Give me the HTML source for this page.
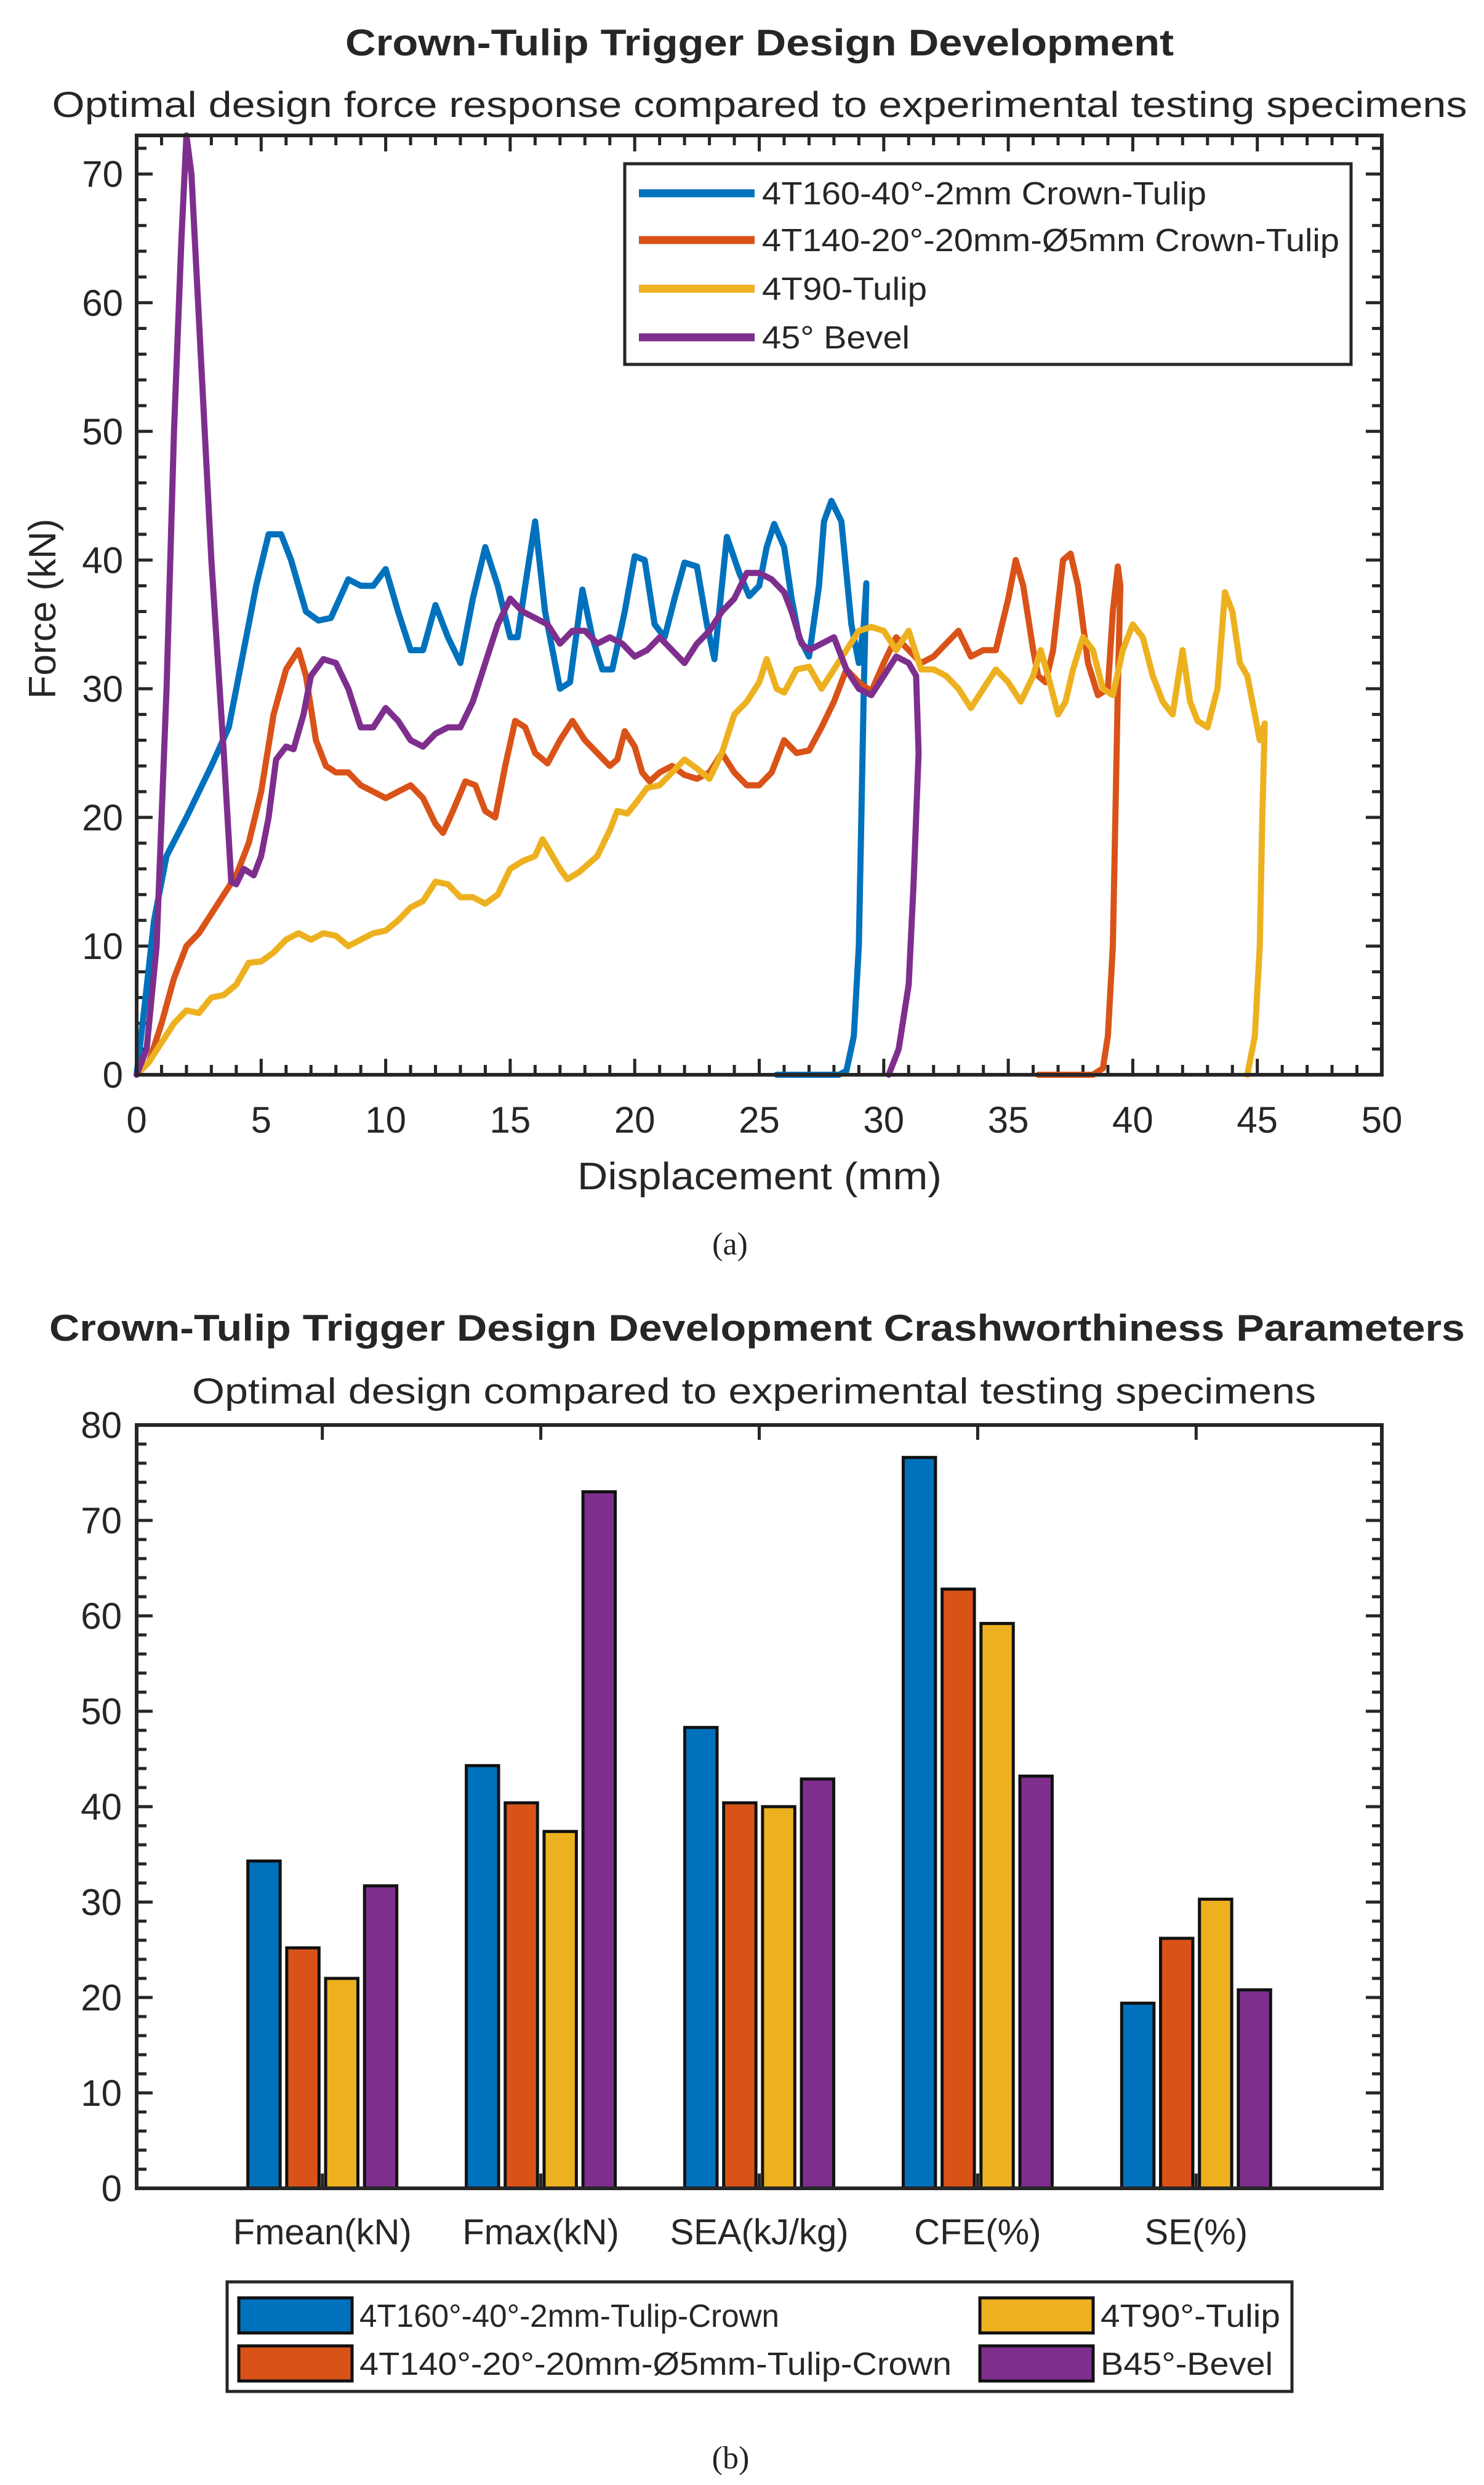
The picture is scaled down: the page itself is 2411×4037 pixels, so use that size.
<!DOCTYPE html>
<html><head><meta charset="utf-8">
<style>
html,body{margin:0;padding:0;background:#fff;}
svg{display:block;font-family:"Liberation Sans",Arial,sans-serif;}
</style></head>
<body>
<svg id="fig" width="2411" height="4037" viewBox="0 0 2411 4037" xmlns="http://www.w3.org/2000/svg">
<rect width="2411" height="4037" fill="#fff"/>
<g id="chartA"></g>
<g id="chartB"></g>
</svg>
<script>
// ---------- Chart (a) data ----------
const xTicksA = [0,5,10,15,20,25,30,35,40,45,50];
const yTicksA = [0,10,20,30,40,50,60,70];
const seriesNamesA = ["4T160-40°-2mm Crown-Tulip","4T140-20°-20mm-Ø5mm Crown-Tulip","4T90-Tulip","45° Bevel"];
const blueX = [0,0.3,0.7,1.2,2,3,3.7,4.3,4.8,5.3,5.8,6.2,6.8,7.3,7.8,8.5,9,9.5,10,10.5,11,11.5,12,12.5,13,13.5,14,14.5,15,15.3,15.6,16,16.4,17,17.4,17.9,18.3,18.7,19.1,19.6,20,20.4,20.8,21.2,21.6,22,22.5,22.9,23.2,23.7,24.2,24.6,25,25.3,25.6,26,26.3,26.6,27,27.4,27.6,27.9,28.3,28.7,29,29.2,29.3,29.2,29.1,29,28.8,28.5,28.2,26,25.7];
const blueY = [0,5,12,17,20,24,27,33,38,42,42,40,36,35.3,35.5,38.5,38,38,39.3,36,33,33,36.5,34,32,37,41,38,34,34,38,43,36,30,30.5,37.7,34,31.5,31.5,36,40.3,40,35,34,37,39.8,39.5,35,32.3,41.8,39,37.2,38,41,42.8,41,37,34,32.5,38,43,44.6,43,35,32,35,38.2,30,20,10,3,0.3,0,0,0];
const orangeX = [0,0.5,1,1.5,2,2.5,3,3.5,4,4.5,5,5.5,6,6.5,6.8,7.2,7.6,8,8.5,9,9.5,10,10.5,11,11.5,12,12.3,12.7,13.2,13.6,14,14.4,14.8,15.2,15.6,16,16.5,17,17.5,18,18.5,19,19.3,19.6,20,20.3,20.6,21,21.5,22,22.5,23,23.5,24,24.5,25,25.5,26,26.5,27,27.5,28,28.5,29,29.5,30,30.5,31,31.5,32,32.5,33,33.5,34,34.5,35,35.3,35.6,36,36.2,36.5,36.8,37.2,37.5,37.8,38.2,38.6,39,39.2,39.4,39.5,39.4,39.3,39.2,39,38.8,38.4,36.2];
const orangeY = [0,1,4,7.5,10,11,12.5,14,15.5,18,22,28,31.5,33,31,26,24,23.5,23.5,22.5,22,21.5,22,22.5,21.5,19.5,18.8,20.5,22.8,22.5,20.5,20,24,27.5,27,25,24.2,26,27.5,26,25,24,24.5,26.7,25.5,23.5,22.8,23.5,24,23.3,23,23.5,25,23.5,22.5,22.5,23.5,26,25,25.2,27,29,31.5,30.5,29.8,32,34,33,32,32.5,33.5,34.5,32.5,33,33,37,40,38,33,31,30.5,33,40,40.5,38,32,29.5,30,36,39.5,38,30,20,10,3,0.5,0,0];
const yellowX = [0,0.5,1,1.5,2,2.5,3,3.5,4,4.5,5,5.5,6,6.5,7,7.5,8,8.5,9,9.5,10,10.5,11,11.5,12,12.5,13,13.5,14,14.5,15,15.5,16,16.3,16.7,17,17.3,17.8,18.5,19,19.3,19.7,20,20.5,21,21.5,22,22.5,23,23.5,24,24.5,25,25.3,25.7,26,26.5,27,27.5,28,28.5,29,29.5,30,30.5,31,31.5,32,32.5,33,33.5,34,34.5,35,35.5,36,36.3,36.6,37,37.3,37.6,38,38.4,38.8,39.2,39.6,40,40.4,40.8,41.2,41.6,42,42.3,42.6,43,43.4,43.7,44,44.3,44.6,44.9,45.1,45.3,45.2,45.1,44.9,44.6];
const yellowY = [0,1,2.5,4,5,4.8,6,6.2,7,8.7,8.8,9.5,10.5,11,10.5,11,10.8,10,10.5,11,11.2,12,13,13.5,15,14.8,13.8,13.8,13.3,14,16,16.6,17,18.3,17,16,15.2,15.8,17,19,20.5,20.3,21,22.3,22.5,23.5,24.5,23.8,23,25,28,29,30.5,32.3,30,29.7,31.5,31.7,30,31.5,33,34.5,34.8,34.5,33,34.5,31.5,31.5,31,30,28.5,30,31.5,30.5,29,31,33,31,28,29,31.5,34,33,30,29.5,33,35,34,31,29,28,33,29,27.5,27,30,37.5,36,32,31,28,26,27.3,20,10,3,0];
const purpleX = [0,0.4,0.8,1.2,1.5,1.8,2,2.2,2.6,3,3.5,3.8,4,4.3,4.7,5,5.3,5.6,6,6.3,6.7,7,7.5,8,8.5,9,9.5,10,10.5,11,11.5,12,12.5,13,13.5,14,14.5,15,15.5,16,16.5,17,17.5,18,18.5,19,19.5,20,20.5,21,21.5,22,22.5,23,23.5,24,24.5,25,25.5,26,26.3,26.7,27,27.5,28,28.5,29,29.5,30,30.5,31,31.3,31.4,31.2,31,30.6,30.2];
const purpleY = [0,2,10,30,50,65,73,70,55,40,25,15,14.8,16,15.5,17,20,24.5,25.5,25.3,28,31,32.3,32,30,27,27,28.5,27.5,26,25.5,26.5,27,27,29,32,35,37,36,35.5,35,33.5,34.5,34.5,33.5,34,33.5,32.5,33,34,33,32,33.5,34.5,36,37,39,39,38.5,37.5,36,33.5,33,33.5,34,31.5,30,29.5,31,32.5,32,31,25,15,7,2,0];

// ---------- Chart (b) data ----------
const categoriesB = ["Fmean(kN)","Fmax(kN)","SEA(kJ/kg)","CFE(%)","SE(%)"];
const yTicksB = [0,10,20,30,40,50,60,70,80];
const seriesNamesB = ["4T160°-40°-2mm-Tulip-Crown","4T140°-20°-20mm-Ø5mm-Tulip-Crown","4T90°-Tulip","B45°-Bevel"];
const valsBlue = [34.3,44.3,48.3,76.6,19.4];
const valsOrange = [25.2,40.4,40.4,62.8,26.2];
const valsYellow = [22.0,37.4,40.0,59.2,30.3];
const valsPurple = [31.7,73.0,42.9,43.2,20.8];

const NS="http://www.w3.org/2000/svg";
const COLORS=["#0072BD","#D95319","#EDB120","#7E2F8E"];
function mk(parent,tag,attrs,text){const e=document.createElementNS(NS,tag);for(const k in attrs)e.setAttribute(k,attrs[k]);if(text!==undefined)e.textContent=text;parent.appendChild(e);return e;}

// ===== Chart A =====
(function(){
const g=document.getElementById('chartA');
const L=222,R=2245,T=220,B=1746,XMAX=50,YMAX=73;
const sx=v=>L+(v/XMAX)*(R-L);
const sy=v=>B-(v/YMAX)*(B-T);
let t;
t=mk(g,'text',{x:1234,y:90,'font-size':60,'font-weight':'bold','text-anchor':'middle',fill:'#262626',textLength:1346,lengthAdjust:'spacingAndGlyphs'},'Crown-Tulip Trigger Design Development');

t=mk(g,'text',{x:1234,y:190,'font-size':58,'text-anchor':'middle',fill:'#262626',textLength:2299,lengthAdjust:'spacingAndGlyphs'},'Optimal design force response compared to experimental testing specimens');

const tk=mk(g,'g',{stroke:'#262626','stroke-width':5});

for(let v=0;v<=XMAX;v++){const big=v%5===0;const len=big?26:16;mk(tk,'line',{x1:sx(v),x2:sx(v),y1:B,y2:B-len});mk(tk,'line',{x1:sx(v),x2:sx(v),y1:T,y2:T+len});}
for(let v=0;v<=YMAX;v+=2){const big=v%10===0;const len=big?26:16;mk(tk,'line',{x1:L,x2:L+len,y1:sy(v),y2:sy(v)});mk(tk,'line',{x1:R,x2:R-len,y1:sy(v),y2:sy(v)});}
const xs=[blueX,orangeX,yellowX,purpleX],ys=[blueY,orangeY,yellowY,purpleY];
const names=['series-4t160','series-4t140','series-4t90','series-45-bevel'];
for(let i=0;i<4;i++){
 const pts=xs[i].map((x,j)=>sx(x).toFixed(1)+','+sy(ys[i][j]).toFixed(1)).join(' ');
 const p=mk(g,'polyline',{points:pts,fill:'none',stroke:COLORS[i],'stroke-width':10,'stroke-linejoin':'round','stroke-linecap':'round'});
 
}
const box=mk(g,'rect',{x:L,y:T,width:R-L,height:B-T,fill:'none',stroke:'#262626','stroke-width':6});

xTicksA.forEach(v=>{const e=mk(g,'text',{x:sx(v),y:1840,'font-size':60,'text-anchor':'middle',fill:'#262626'},String(v));
 });
yTicksA.forEach(v=>{const e=mk(g,'text',{x:200,y:sy(v)+21,'font-size':60,'text-anchor':'end',fill:'#262626'},String(v));
 });
t=mk(g,'text',{x:1234,y:1932,'font-size':62,'text-anchor':'middle',fill:'#262626',textLength:592,lengthAdjust:'spacingAndGlyphs'},'Displacement (mm)');

t=mk(g,'text',{x:0,y:0,'font-size':62,'text-anchor':'middle',fill:'#262626',transform:'translate(90,989) rotate(-90)'},'Force (kN)');

t=mk(g,'text',{x:1186,y:2038,'font-size':52,'text-anchor':'middle',fill:'#222','font-family':'Liberation Serif, serif'},'(a)');

const lg=mk(g,'g',{});

mk(lg,'rect',{x:1015,y:266,width:1180,height:326,fill:'#fff',stroke:'#262626','stroke-width':5});
const rowsY=[314,390,469,548];
seriesNamesA.forEach((n,i)=>{
 const ln=mk(lg,'line',{x1:1038,x2:1226,y1:rowsY[i],y2:rowsY[i],stroke:COLORS[i],'stroke-width':13});
 
 const widths=[722,938,268,240];
 const e=mk(lg,'text',{x:1238,y:rowsY[i]+18,'font-size':52,fill:'#262626',textLength:widths[i],lengthAdjust:'spacingAndGlyphs'},n);
 
});
})();

// ===== Chart B =====
(function(){
const g=document.getElementById('chartB');
const L=222,R=2245,T=2315,B=3555,YMAX=80,XMIN=0.15,XMAX=5.85;
const sx=v=>L+(v-XMIN)/(XMAX-XMIN)*(R-L);
const sy=v=>B-(v/YMAX)*(B-T);
let t;
t=mk(g,'text',{x:1230,y:2178,'font-size':60,'font-weight':'bold','text-anchor':'middle',fill:'#262626',textLength:2300,lengthAdjust:'spacingAndGlyphs'},'Crown-Tulip Trigger Design Development Crashworthiness Parameters');

t=mk(g,'text',{x:1225,y:2280,'font-size':58,'text-anchor':'middle',fill:'#262626',textLength:1826,lengthAdjust:'spacingAndGlyphs'},'Optimal design compared to experimental testing specimens');

const tk=mk(g,'g',{stroke:'#262626','stroke-width':5});

for(let v=0;v<=YMAX;v+=2){const big=v%10===0;const len=big?26:16;mk(tk,'line',{x1:L,x2:L+len,y1:sy(v),y2:sy(v)});mk(tk,'line',{x1:R,x2:R-len,y1:sy(v),y2:sy(v)});}
categoriesB.forEach((c,i)=>{mk(tk,'line',{x1:sx(i+1),x2:sx(i+1),y1:B,y2:B-24});mk(tk,'line',{x1:sx(i+1),x2:sx(i+1),y1:T,y2:T+24});});
const all=[valsBlue,valsOrange,valsYellow,valsPurple];
const offs=[-1.5,-0.5,0.5,1.5];
const pitch=(R-L)/(XMAX-XMIN)*0.178, bw=pitch*0.83;
const bn=['bar-4t160','bar-4t140','bar-4t90','bar-b45-bevel'];
categoriesB.forEach((c,i)=>{
 all.forEach((vals,s)=>{
  const cx=sx(i+1)+offs[s]*pitch;
  const r=mk(g,'rect',{x:cx-bw/2,y:sy(vals[i]),width:bw,height:sy(0)-sy(vals[i]),fill:COLORS[s],stroke:'#111','stroke-width':5});
  
 });
 const e=mk(g,'text',{x:sx(i+1),y:3646,'font-size':58,'text-anchor':'middle',fill:'#262626'},c);
 
});
const box=mk(g,'rect',{x:L,y:T,width:R-L,height:B-T,fill:'none',stroke:'#262626','stroke-width':6});

yTicksB.forEach(v=>{const e=mk(g,'text',{x:198,y:sy(v)+21,'font-size':60,'text-anchor':'end',fill:'#262626'},String(v));
 });
const lg=mk(g,'g',{});

mk(lg,'rect',{x:369,y:3707,width:1730,height:178,fill:'#fff',stroke:'#262626','stroke-width':5});
const pos=[[388,3733],[388,3811],[1592,3733],[1592,3811]];
const widths=[682,962,292,280];
seriesNamesB.forEach((n,i)=>{
 const [x,y]=pos[i];
 const sw=mk(lg,'rect',{x:x,y:y,width:184,height:57,fill:COLORS[i],stroke:'#111','stroke-width':5});
 
 const e=mk(lg,'text',{x:x+196,y:y+47,'font-size':52,fill:'#262626',textLength:widths[i],lengthAdjust:'spacingAndGlyphs'},n);
 
});
t=mk(g,'text',{x:1187,y:4010,'font-size':52,'text-anchor':'middle',fill:'#222','font-family':'Liberation Serif, serif'},'(b)');

})();
</script>
</body></html>
